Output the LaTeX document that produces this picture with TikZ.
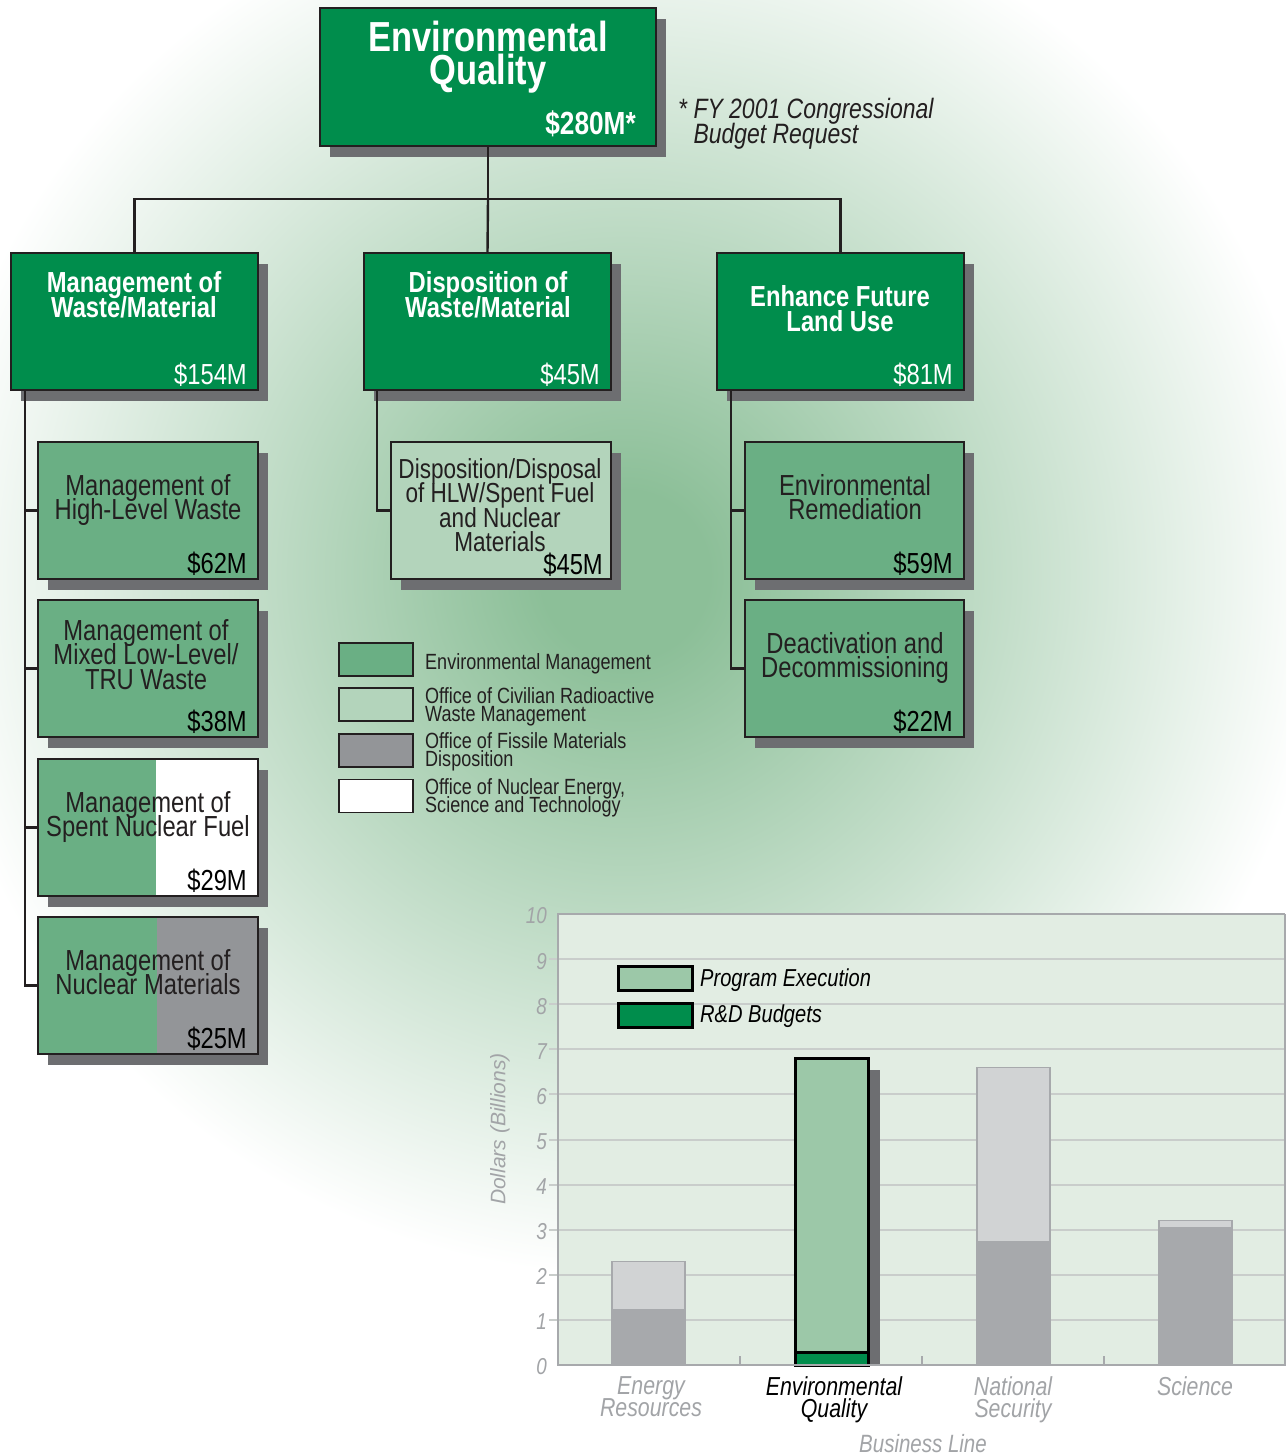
\documentclass[tikz,border=0pt]{standalone}
\usepackage{fontspec}
\setmainfont{Liberation Sans}[FakeStretch=0.82]
\newfontfamily\widesans{Liberation Sans}
\usetikzlibrary{shadows}
\definecolor{eqgreen}{HTML}{008D4C}
\definecolor{emgreen}{HTML}{6AAF84}
\definecolor{rwgreen}{HTML}{B3D4BB}
\definecolor{fmgrey}{HTML}{939598}
\definecolor{shadowgrey}{HTML}{6D6E71}
\definecolor{linedark}{HTML}{231F20}
\definecolor{glowgreen}{HTML}{8CBF98}
\definecolor{chartbg}{HTML}{E2EDE3}
\definecolor{axisgrey}{HTML}{A7A9AC}
\definecolor{bartop}{HTML}{D1D3D4}
\definecolor{gridgrey}{HTML}{C9CDCB}
\definecolor{pegreen}{HTML}{9CC8A8}
\definecolor{labelgrey}{HTML}{A2A4A7}
\pgfdeclareradialshading{glow}{\pgfpoint{0bp}{0bp}}{color(0bp)=(glowgreen); color(3bp)=(glowgreen); color(25bp)=(white); color(50bp)=(white)}
\newcommand\tightlines{\lineskiplimit=-100pt\lineskip=0pt}
\begin{document}
\begin{tikzpicture}[x=1pt, y=-1pt, line join=miter,
    conn/.style={draw=linedark, line width=2.4pt},
    boxbase/.style={draw=linedark, line width=1.3pt, inner sep=0pt, outer sep=0pt,
      drop shadow={shadow xshift=10pt, shadow yshift=-11pt, fill=shadowgrey, opacity=1}},
    topbox/.style={boxbase, fill=eqgreen, minimum width=336pt, minimum height=138pt},
    headbox/.style={boxbase, fill=eqgreen, minimum width=247pt, minimum height=137pt},
    subbox/.style={boxbase, fill=emgreen, minimum width=220pt, minimum height=137pt},
    headtext/.style={anchor=north, inner sep=0pt, align=center, text=white, font=\bfseries\fontsize{29}{25}\selectfont\tightlines},
    subtext/.style={anchor=north, inner sep=0pt, align=center, text=linedark, font=\fontsize{29}{24.5}\selectfont\tightlines},
    amount/.style={anchor=base east, inner sep=0pt, font=\fontsize{29}{29}\selectfont},
    legbox/.style={draw=linedark, line width=1.2pt, minimum width=74pt, minimum height=33pt, inner sep=0pt},
    legtext/.style={anchor=north west, inner sep=0pt, align=left, text=linedark, font=\fontsize{22}{18.5}\selectfont\tightlines},
    chartkey/.style={draw=black, line width=3pt, minimum width=74pt, minimum height=24pt, inner sep=0pt},
    keytext/.style={anchor=west, inner sep=0pt, font=\itshape\fontsize{24.5}{24.5}\selectfont},
    axisnum/.style={anchor=east, inner sep=0pt, text=labelgrey, font=\itshape\fontsize{23}{23}\selectfont},
    catlabel/.style={anchor=north, inner sep=0pt, align=center, text=labelgrey, font=\itshape\fontsize{26}{22}\selectfont\tightlines}]
  \useasboundingbox (0,0) rectangle (1286,1456);
  % background glow
  \begin{scope}
    \clip (0,0) rectangle (1286,1456);
    \fill[white] (0,0) rectangle (1286,1456);
    \shade[shading=glow] (625,575) circle (700);
  \end{scope}
  % top of the tree
  \node[topbox] (eq) at (488,77) {};
  \node[anchor=north, inner sep=0pt, align=center, text=white, font=\bfseries\fontsize{42}{33}\selectfont\tightlines] (eqt) at (488,21) {Environmental\\Quality};
  \node[amount, text=white, font=\bfseries\fontsize{32}{32}\selectfont] (eqm) at ([xshift=-20pt, yshift=12pt]eq.south east) {\$280M*};
  \node[anchor=north west, inner sep=0pt, align=left, text=linedark, font=\itshape\fontsize{28}{25}\selectfont\tightlines] (note) at (678,98) {* FY 2001 Congressional\\\phantom{* }Budget Request};
  % business lines
  \node[headbox] (mwm) at (134.5,321.5) {};
  \node[headbox] (dwm) at (487.5,321.5) {};
  \node[headbox] (eflu) at (840.5,321.5) {};
  \node[headtext] (mwmt) at (134,271) {Management of\\Waste/Material};
  \node[headtext] (dwmt) at (488,271) {Disposition of\\Waste/Material};
  \node[headtext] (eflut) at (840,285) {Enhance Future\\Land Use};
  \node[amount, text=white] (mwmm) at ([xshift=-11pt, yshift=6pt]mwm.south east) {\$154M};
  \node[amount, text=white] (dwmm) at ([xshift=-11pt, yshift=6pt]dwm.south east) {\$45M};
  \node[amount, text=white] (eflum) at ([xshift=-11pt, yshift=6pt]eflu.south east) {\$81M};
  \draw[conn] (eq.south) -- ++(0,53) coordinate (split);
  \draw[conn] (mwm.north) |- (split) -| (eflu.north);
  \draw[conn] (split) -- (dwm.north);
  % programs
  \node[subbox] (hlw) at (148,510.5) {};
  \node[subbox] (mllw) at (148,668.5) {};
  \node[subbox] (snf) at (148,827.5) {};
  \node[subbox] (nm) at (148,985.5) {};
  \node[subbox, fill=rwgreen] (hlwsf) at (501,510.5) {};
  \node[subbox, minimum width=219pt] (er) at (854.5,510.5) {};
  \node[subbox, minimum width=219pt] (dd) at (854.5,668.5) {};
  % shared boxes
  \fill[white] ([xshift=118pt]snf.north west) rectangle (snf.south east);
  \draw[linedark, line width=1.3pt] (snf.north west) rectangle (snf.south east);
  \fill[fmgrey] ([xshift=119pt]nm.north west) rectangle (nm.south east);
  \draw[linedark, line width=1.3pt] (nm.north west) rectangle (nm.south east);
  \node[subtext] (hlwt) at (148,474) {Management of\\High-Level Waste};
  \node[subtext] (mllwt) at (146,619) {Management of\\Mixed Low-Level/\\TRU Waste};
  \node[subtext] (snft) at (148,791) {Management of\\Spent Nuclear Fuel};
  \node[subtext] (nmt) at (148,949) {Management of\\Nuclear Materials};
  \node[subtext, font=\fontsize{27.5}{24.5}\selectfont\tightlines] (hlwsft) at (500,458) {Disposition/Disposal\\of HLW/Spent Fuel\\and Nuclear\\Materials};
  \node[subtext] (ert) at (855,474) {Environmental\\Remediation};
  \node[subtext] (ddt) at (855,632) {Deactivation and\\Decommissioning};
  \node[amount] (hlwm) at ([xshift=-11pt, yshift=6pt]hlw.south east) {\$62M};
  \node[amount] (mllwm) at ([xshift=-11pt, yshift=6pt]mllw.south east) {\$38M};
  \node[amount] (snfm) at ([xshift=-11pt, yshift=6pt]snf.south east) {\$29M};
  \node[amount] (nmm) at ([xshift=-11pt, yshift=6pt]nm.south east) {\$25M};
  \node[amount] (hlwsfm) at ([xshift=-8pt, yshift=5pt]hlwsf.south east) {\$45M};
  \node[amount] (erm) at ([xshift=-11pt, yshift=6pt]er.south east) {\$59M};
  \node[amount] (ddm) at ([xshift=-11pt, yshift=6pt]dd.south east) {\$22M};
  \foreach \n in {hlw,mllw,snf,nm}
    \draw[conn] (\n.west) -| ([xshift=14pt]mwm.south west);
  \draw[conn] (hlwsf.west) -| ([xshift=13pt]dwm.south west);
  \foreach \n in {er,dd}
    \draw[conn] (\n.west) -| ([xshift=14pt]eflu.south west);
  % legend
  \node[legbox, fill=emgreen] (lem) at (376,659.5) {};
  \node[legbox, fill=rwgreen] (lrw) at (376,704.5) {};
  \node[legbox, fill=fmgrey] (lfm) at (376,750.5) {};
  \node[legbox, fill=white] (lne) at (376,796) {};
  \node[legtext] (lemt) at (425,653) {Environmental Management};
  \node[legtext] (lrwt) at (425,687) {Office of Civilian Radioactive\\Waste Management};
  \node[legtext] (lfmt) at (425,732) {Office of Fissile Materials\\Disposition};
  \node[legtext] (lnet) at (425,778) {Office of Nuclear Energy,\\Science and Technology};
  % chart
  \def\yz{1365}
  \def\ys{45.1}
  \fill[chartbg] (558,914) rectangle (1286,1365);
  \foreach \v in {1,...,9}
    \draw[gridgrey, line width=2pt] (549,{\yz-\ys*\v}) -- (1286,{\yz-\ys*\v});
  \foreach \v in {0,...,10}
    \node[axisnum] (y\v) at (547,{\yz-\ys*\v+2}) {\v};
  \foreach \bx/\lo/\hi in {612/1.25/2.3, 977/2.75/6.6, 1159/3.05/3.2} {
    \filldraw[fill=bartop, draw=axisgrey, line width=1.2pt] (\bx,{\yz-\ys*\hi}) rectangle ({\bx+73},\yz);
    \fill[axisgrey] (\bx,{\yz-\ys*\lo}) rectangle ({\bx+73},\yz);
  }
  \fill[shadowgrey] (868,{\yz-\ys*6.55}) rectangle (880,\yz);
  \filldraw[fill=pegreen, draw=black, line width=3pt] (795,{\yz-\ys*6.8}) rectangle (868,\yz);
  \filldraw[fill=eqgreen, draw=black, line width=3pt] (795,{\yz-\ys*0.28}) rectangle (868,\yz);
  \draw[axisgrey, line width=2.5pt] (1285,914) -- (558,914) -- (558,1365) -- (1286,1365);
  \draw[axisgrey, line width=2.5pt] (1285,914) -- (1285,1365);
  \foreach \t in {740,922,1104}
    \draw[axisgrey, line width=1.2pt] (\t,1365) -- (\t,1356);
  \node[chartkey, fill=pegreen] (kpe) at (655,978) {};
  \node[chartkey, fill=eqgreen] (krd) at (655,1015) {};
  \node[keytext] (kpet) at (700,980) {Program Execution};
  \node[keytext] (krdt) at (700,1016) {R\&D Budgets};
  \node[catlabel] (cer) at (651,1376) {Energy\\Resources};
  \node[catlabel, text=black] (ceq) at (834,1376) {Environmental\\Quality};
  \node[catlabel] (cns) at (1013,1376) {National\\Security};
  \node[catlabel] (csc) at (1195,1376) {Science};
  \node[inner sep=0pt, text=labelgrey, font=\itshape\fontsize{25}{25}\selectfont] (xlab) at (923,1444) {Business Line};
  \node[inner sep=0pt, rotate=90, text=labelgrey, font=\widesans\itshape\fontsize{21}{21}\selectfont] (ylab) at (500,1129) {Dollars (Billions)};
\end{tikzpicture}
\end{document}
